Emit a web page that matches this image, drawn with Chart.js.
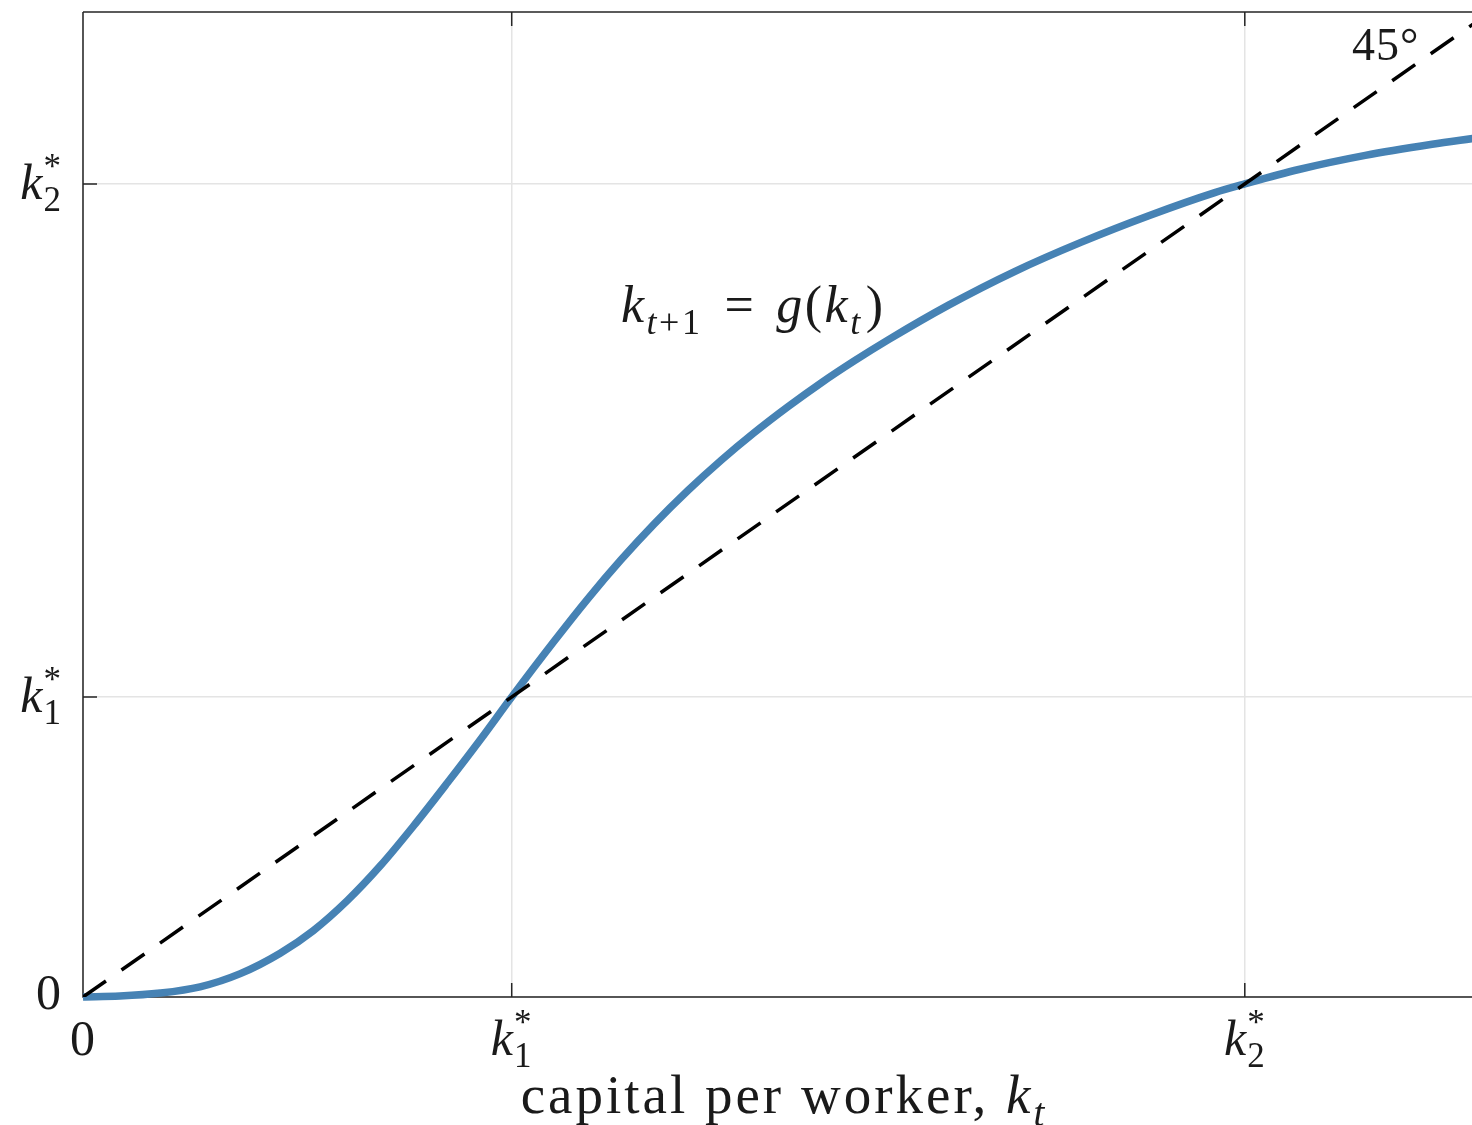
<!DOCTYPE html>
<html>
<head>
<meta charset="utf-8">
<script src="https://cdn.jsdelivr.net/npm/chart.js@4.4.1/dist/chart.umd.min.js"></script>
<style>
  html, body { margin: 0; padding: 0; background: #fff; }
  canvas { display: block; }
</style>
</head>
<body>
<canvas id="chart" width="1472" height="1125"></canvas>
<script>
/* ===========================
   Daten (k1* = 1)
   =========================== */

// Kapital pro Arbeiter k_t
const kt = [
  0, 0.086, 0.180, 0.273, 0.367, 0.460, 0.537, 0.617, 0.694, 0.771,
  0.850, 0.928, 1.000, 1.098, 1.178, 1.255, 1.332, 1.411, 1.488, 1.565,
  1.645, 1.722, 1.799, 1.879, 2.019, 2.173, 2.329, 2.486, 2.640, 2.710,
  2.836, 2.991, 3.147, 3.245
];

// k_{t+1} = g(k_t)
const ktNext = [
  0, 0.003, 0.013, 0.034, 0.078, 0.146, 0.221, 0.322, 0.438, 0.570,
  0.714, 0.860, 1.000, 1.184, 1.328, 1.457, 1.576, 1.688, 1.788, 1.880,
  1.968, 2.047, 2.120, 2.191, 2.306, 2.418, 2.516, 2.604, 2.681, 2.710,
  2.758, 2.805, 2.842, 2.862
];

// 45°-Linie
const diagX = [0, 3.5];
const diagY = [0, 3.5];

// Achsen
const X_MAX = 3.24;
const Y_MAX = 3.283;
const K1 = 1.0;
const K2 = 2.71;

const tickValues = [0, K1, K2];
const tickBase = ["0", "k", "k"];
const tickSub = ["", "1", "2"];
const tickSup = ["", "*", "*"];

/* ===========================
   Text-Hilfen (Index / Exponent)
   =========================== */

const FONT = '"Liberation Serif", "DejaVu Serif", serif';
const AXIS_COLOR = "#262626";

function font(size, it) {
  return (it ? "italic " : "") + size + "px " + FONT;
}

// items: [{t, i, sub: [[text, italic]], sup: [[text, italic]]}] oder {gap}
function layoutMath(ctx, items, F) {
  const segs = [];
  let w = 0;
  items.forEach(item => {
    if (item.gap) { w += item.gap; return; }
    ctx.font = font(F, item.i);
    segs.push({ t: item.t, f: ctx.font, dx: w, dy: 0 });
    w += ctx.measureText(item.t).width;
    let scriptW = 0;
    [["sub", 0.24 * F], ["sup", -0.42 * F]].forEach(([key, dy]) => {
      if (!item[key]) return;
      let sx = w;
      item[key].forEach(([t, it]) => {
        ctx.font = font(Math.round(F * 0.7), it);
        segs.push({ t, f: ctx.font, dx: sx, dy });
        sx += ctx.measureText(t).width;
      });
      scriptW = Math.max(scriptW, sx - w);
    });
    w += scriptW;
  });
  return { segs, w };
}

function drawMath(ctx, items, F, x, y, align, spacing) {
  ctx.save();
  ctx.letterSpacing = (spacing || 0) + "px";
  const { segs, w } = layoutMath(ctx, items, F);
  const x0 = align === "center" ? x - w / 2 : align === "right" ? x - w : x;
  ctx.textAlign = "left";
  ctx.textBaseline = "alphabetic";
  ctx.fillStyle = "#1a1a1a";
  segs.forEach(s => {
    ctx.font = s.f;
    ctx.fillText(s.t, x0 + s.dx, y + s.dy);
  });
  ctx.restore();
}

function tickItems(i) {
  if (!tickSub[i]) return [{ t: tickBase[i], i: false }];
  return [{ t: tickBase[i], i: true, sub: [[tickSub[i], false]], sup: [[tickSup[i], false]] }];
}

/* ===========================
   Achsen-Plugin
   =========================== */

const axesPlugin = {
  id: "axesBox",
  beforeDatasetsDraw(chart) {
    const { ctx, chartArea: a, scales } = chart;
    ctx.save();
    ctx.strokeStyle = AXIS_COLOR;
    ctx.lineWidth = 1.5;
    ctx.beginPath();
    ctx.moveTo(a.left, a.top);
    ctx.lineTo(a.right + 2, a.top);
    ctx.moveTo(a.left, a.top);
    ctx.lineTo(a.left, a.bottom);
    ctx.lineTo(a.right + 2, a.bottom);
    // Ticks nach innen
    const len = 14;
    tickValues.forEach(v => {
      const px = scales.x.getPixelForValue(v);
      ctx.moveTo(px, a.bottom);
      ctx.lineTo(px, a.bottom - len);
      ctx.moveTo(px, a.top);
      ctx.lineTo(px, a.top + len);
      const py = scales.y.getPixelForValue(v);
      ctx.moveTo(a.left, py);
      ctx.lineTo(a.left + len, py);
    });
    ctx.stroke();
    ctx.restore();
  },
  afterDraw(chart) {
    const { ctx, chartArea: a, scales } = chart;
    const F = 50;
    tickValues.forEach((v, i) => {
      const items = tickItems(i);
      const px = scales.x.getPixelForValue(v);
      drawMath(ctx, items, F, px, a.bottom + 58, "center", 1);
      const py = scales.y.getPixelForValue(v);
      drawMath(ctx, items, F, a.left - 21, py + (tickSub[i] ? 15 : 12), "right", 1);
    });

    // Achsentitel
    drawMath(ctx, [
      { t: "capital per worker, ", i: false },
      { t: "k", i: true, sub: [["t", true]] }
    ], 55, scales.x.getPixelForValue(1.635), a.bottom + 116, "center", 3);

    // Kurvenbeschriftung
    drawMath(ctx, [
      { t: "k", i: true, sub: [["t", true], ["+1", false]] },
      { gap: 22 },
      { t: "=", i: false },
      { gap: 20 },
      { t: "g", i: true },
      { t: "(", i: false },
      { t: "k", i: true, sub: [["t", true]] },
      { gap: 3 },
      { t: ")", i: false }
    ], 52, scales.x.getPixelForValue(1.255), scales.y.getPixelForValue(2.25), "left", 2.5);

    // 45°
    drawMath(ctx, [{ t: "45°", i: false }], 46,
      scales.x.getPixelForValue(2.96), scales.y.getPixelForValue(3.123), "left", 1);
  }
};

/* ===========================
   Chart
   =========================== */

function axisScale(max) {
  return {
    type: "linear",
    min: 0,
    max: max,
    afterBuildTicks: s => { s.ticks = tickValues.map(v => ({ value: v })); },
    ticks: { display: false },
    grid: { color: "#e4e4e4", lineWidth: 1.5, drawTicks: false },
    border: { display: false }
  };
}

new Chart(document.getElementById("chart"), {
  type: "line",
  data: {
    datasets: [
      {
        label: "45°",
        data: diagX.map((x, i) => ({ x: x, y: diagY[i] })),
        borderColor: "#000000",
        borderWidth: 3.5,
        borderDash: [28, 19],
        pointRadius: 0,
        fill: false,
        clip: 0
      },
      {
        label: "g(k)",
        data: kt.map((x, i) => ({ x: x, y: ktNext[i] })),
        borderColor: "#4682b4",
        borderWidth: 7.5,
        pointRadius: 0,
        fill: false,
        cubicInterpolationMode: "monotone",
        clip: 6
      }
    ]
  },
  options: {
    responsive: false,
    animation: false,
    events: [],
    layout: { padding: { left: 83, top: 12, right: 0, bottom: 128 } },
    plugins: {
      legend: { display: false },
      tooltip: { enabled: false }
    },
    scales: {
      x: axisScale(X_MAX),
      y: axisScale(Y_MAX)
    }
  },
  plugins: [axesPlugin]
});
</script>
</body>
</html>
